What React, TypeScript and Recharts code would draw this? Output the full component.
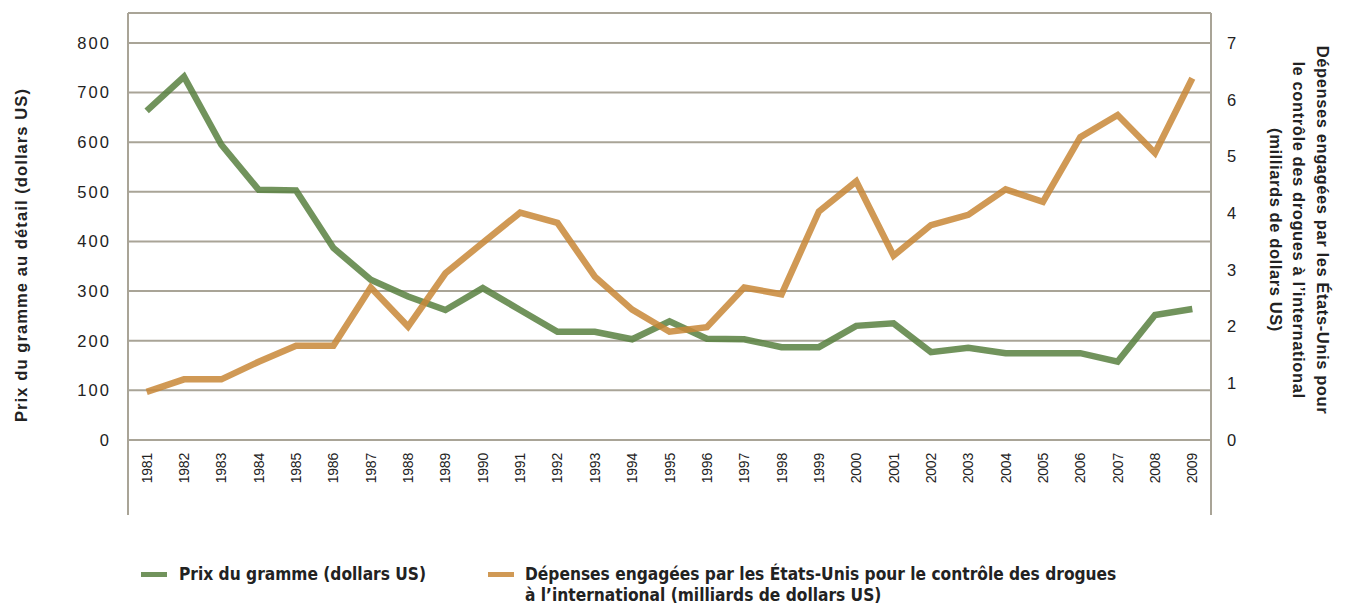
import React from 'react';
import { LineChart, Line, XAxis, YAxis, CartesianGrid } from 'recharts';

const annees = [
  '1981', '1982', '1983', '1984', '1985', '1986', '1987', '1988', '1989', '1990',
  '1991', '1992', '1993', '1994', '1995', '1996', '1997', '1998', '1999', '2000',
  '2001', '2002', '2003', '2004', '2005', '2006', '2007', '2008', '2009',
];
const prixGramme = [
  663, 732, 595, 504, 503, 387, 323, 289, 262, 306,
  262, 218, 218, 203, 239, 204, 203, 187, 187, 230,
  235, 177, 186, 175, 175, 175, 158, 252, 264,
];
const depenses = [
  0.85, 1.07, 1.07, 1.38, 1.66, 1.66, 2.69, 2.0, 2.94, 3.48,
  4.01, 3.83, 2.88, 2.3, 1.91, 1.99, 2.69, 2.57, 4.03, 4.56,
  3.25, 3.79, 3.97, 4.42, 4.2, 5.34, 5.73, 5.06, 6.38,
];
const ticksGauche = [0, 100, 200, 300, 400, 500, 600, 700, 800];
const ticksDroite = [0, 1, 2, 3, 4, 5, 6, 7];

const dados = annees.map((annee, i) => ({ annee, prix: prixGramme[i], depenses: depenses[i] }));

const VERT = 'rgb(88,128,64)';
const ORANGE = 'rgb(200,135,55)';
const GRILLE = '#a9a497';
const POLICE = '"Liberation Sans", Arial, sans-serif';
const POLICE_ETROITE = '"Liberation Sans Narrow", "DejaVu Sans Condensed", "Liberation Sans", sans-serif';

function TickAnnee({ x, y, payload }: any) {
  const tx = x + 5;
  const ty = y + 5;
  return (
    <text
      x={tx}
      y={ty}
      transform={`rotate(-90 ${tx} ${ty})`}
      textAnchor="end"
      fontSize={14}
      fontFamily={POLICE}
      letterSpacing={-0.2}
      fill="#222"
    >
      {payload.value}
    </text>
  );
}

export default function App() {
  return (
    <div style={{ position: 'absolute', left: 0, top: 0, width: 1347, height: 606, background: '#fff', fontFamily: POLICE }}>
      <LineChart width={1347} height={606} data={dados} margin={{ top: 13, right: 0, left: 0, bottom: 91 }}>
        <CartesianGrid yAxisId="gauche" vertical={false} stroke={GRILLE} strokeWidth={2} />
        <XAxis
          dataKey="annee"
          axisLine={false}
          tickLine={false}
          height={75}
          interval={0}
          padding={{ left: 18.67, right: 18.67 }}
          tick={<TickAnnee />}
        />
        <YAxis
          yAxisId="gauche"
          width={128}
          domain={[0, 860.4]}
          ticks={ticksGauche}
          axisLine={false}
          tickLine={false}
          tickMargin={11}
          tick={{ fontSize: 16.5, fill: '#222', fontFamily: POLICE, letterSpacing: 2.1 }}
        />
        <YAxis
          yAxisId="droite"
          orientation="right"
          width={136}
          domain={[0, 7.53]}
          ticks={ticksDroite}
          axisLine={false}
          tickLine={false}
          tickMargin={10}
          tick={{ fontSize: 16.5, fill: '#222', fontFamily: POLICE }}
        />
        <Line
          yAxisId="gauche"
          type="linear"
          dataKey="prix"
          stroke={VERT}
          strokeOpacity={0.85}
          strokeWidth={6.5}
          strokeLinejoin="miter"
          dot={false}
          isAnimationActive={false}
        />
        <Line
          yAxisId="droite"
          type="linear"
          dataKey="depenses"
          stroke={ORANGE}
          strokeOpacity={0.85}
          strokeWidth={6.5}
          strokeLinejoin="miter"
          dot={false}
          isAnimationActive={false}
        />
      </LineChart>

      {/* axes verticaux prolongés */}
      <div style={{ position: 'absolute', left: 127, top: 13, width: 2, height: 502, background: GRILLE }} />
      <div style={{ position: 'absolute', left: 1210, top: 13, width: 2, height: 502, background: GRILLE }} />

      {/* titre axe gauche */}
      <div
        style={{
          position: 'absolute', left: 21, top: 255, width: 400, marginLeft: -200, textAlign: 'center',
          transform: 'translateY(-50%) rotate(-90deg)', fontWeight: 'bold', fontSize: 16.5, letterSpacing: 1.1,
          color: '#222', whiteSpace: 'nowrap',
        }}
      >
        Prix du gramme au détail (dollars US)
      </div>

      {/* titre axe droit */}
      <div
        style={{
          position: 'absolute', left: 1299, top: 230, width: 440, marginLeft: -220, textAlign: 'center',
          transform: 'translateY(-50%) rotate(90deg)', fontWeight: 'bold', fontSize: 16.5, letterSpacing: 0.6,
          lineHeight: '23.5px', color: '#222', whiteSpace: 'nowrap',
        }}
      >
        Dépenses engagées par les États-Unis pour<br />
        le contrôle des drogues à l’international<br />
        (milliards de dollars US)
      </div>

      {/* légende */}
      <div style={{ position: 'absolute', left: 141, top: 572, width: 26, height: 5, background: VERT, opacity: 0.85 }} />
      <div
        style={{
          position: 'absolute', left: 179, top: 564, fontFamily: POLICE_ETROITE, fontWeight: 'bold',
          fontSize: 17.2, lineHeight: '21px', color: '#222', whiteSpace: 'nowrap',
        }}
      >
        Prix du gramme (dollars US)
      </div>
      <div style={{ position: 'absolute', left: 488, top: 572, width: 26, height: 5, background: ORANGE, opacity: 0.85 }} />
      <div
        style={{
          position: 'absolute', left: 525, top: 564, fontFamily: POLICE_ETROITE, fontWeight: 'bold',
          fontSize: 17.2, lineHeight: '21px', color: '#222', whiteSpace: 'nowrap',
        }}
      >
        Dépenses engagées par les États-Unis pour le contrôle des drogues<br />
        à l’international (milliards de dollars US)
      </div>
    </div>
  );
}
